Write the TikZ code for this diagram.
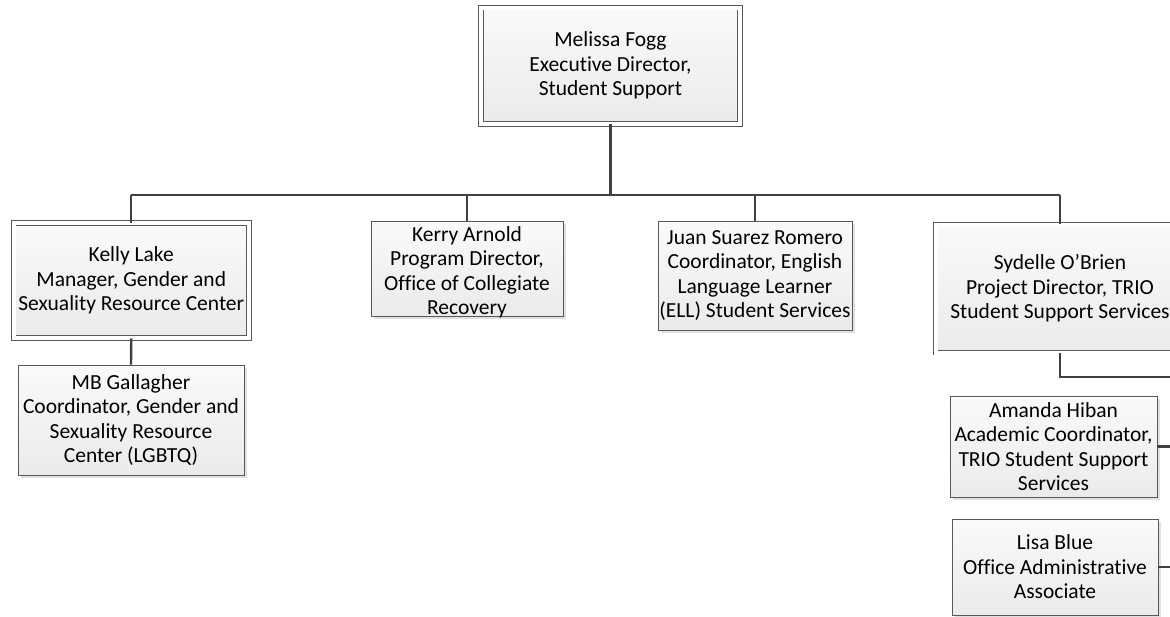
\documentclass[tikz,border=0pt]{standalone}
\usepackage{fontspec}
\setmainfont{Carlito}[Ligatures=NoCommon]
\usetikzlibrary{shadows}
\definecolor{edgec}{HTML}{595959}
\definecolor{linec}{HTML}{404040}
\tikzset{
  boxtext/.style={inner sep=0pt, align=center, font=\fontsize{21.5}{24.5}\selectfont},
  orgbox/.style={boxtext, draw=edgec, line width=0.8pt, top color=gray!4, bottom color=gray!16,
    drop shadow={shadow xshift=2.5pt, shadow yshift=-2.5pt, opacity=0.35, fill=gray!70}},
  dblbox/.style={orgbox, double=white, double distance=4pt},
  conn/.style={draw=linec, line width=2.4pt}
}
\begin{document}
\begin{tikzpicture}[x=1pt,y=-1pt]
\useasboundingbox (0,0) rectangle (1170,616);
\clip (0,0) rectangle (1170,616);
\node[dblbox, minimum width=259pt, minimum height=116.5pt] (top) at (610.5,65.75)
  {Melissa Fogg\\Executive Director,\\Student Support};
\node[dblbox, minimum width=235.5pt, minimum height=115pt] (kelly) at (131.25,280.5)
  {Kelly Lake\\Manager, Gender and\\Sexuality Resource Center};
\node[orgbox, minimum width=226pt, minimum height=110pt] (mb) at (131,420)
  {MB Gallagher\\Coordinator, Gender and\\Sexuality Resource\\Center (LGBTQ)};
\node[orgbox, minimum width=192pt, minimum height=95pt] (kerry) at (467,268.5) {};
\node[boxtext] (kerrytxt) at ([yshift=-4pt]kerry.center)
  {Kerry Arnold\\Program Director,\\Office of Collegiate\\Recovery};
\node[orgbox, minimum width=194pt, minimum height=109pt] (juan) at (755,275.5)
  {Juan Suarez Romero\\Coordinator, English\\Language Learner\\(ELL) Student Services};
\node[dblbox, minimum width=249pt, minimum height=128pt] (syd) at (1060,288.5)
  {Sydelle O’Brien\\Project Director, TRIO\\Student Support Services};
\node[orgbox, minimum width=207pt, minimum height=101pt] (amanda) at (1053.5,446.5)
  {Amanda Hiban\\Academic Coordinator,\\TRIO Student Support\\Services};
\node[orgbox, minimum width=206pt, minimum height=96pt] (lisa) at (1055,567)
  {Lisa Blue\\Office Administrative\\Associate};
\coordinate (bus) at (610.5,195);
\coordinate (rbus) at (1182,377);
\draw[conn] (top.south) -- (top.south |- bus);
\draw[conn] (kelly.north |- bus) -- (syd.north |- bus);
\draw[conn] (kelly.north |- bus) -- (kelly.north);
\draw[conn] (kerry.north |- bus) -- (kerry.north);
\draw[conn] (juan.north |- bus) -- (juan.north);
\draw[conn] (syd.north |- bus) -- (syd.north);
\draw[conn] (kelly.south) -- (mb.north);
\draw[conn] (syd.south) |- (rbus) -- (rbus |- lisa.east);
\draw[conn] (amanda.east) -- (amanda.east -| rbus);
\draw[conn] (lisa.east) -- (lisa.east -| rbus);
\end{tikzpicture}
\end{document}
